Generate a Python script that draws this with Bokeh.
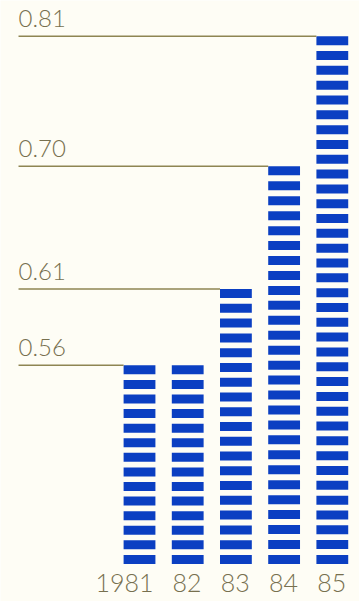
import math

from bokeh.core.properties import value
from bokeh.embed import file_html
from bokeh.models import ColumnDataSource, Range1d
from bokeh.plotting import figure
from bokeh.resources import INLINE

# Yearly ratio, 1981-85
years = ["1981", "82", "83", "84", "85"]
ratios = [0.56, 0.56, 0.61, 0.70, 0.81]

# ---- styling / layout -------------------------------------------------------
W, H = 359, 601
BG = "#fefdf5"
BLUE = "#0b3fc2"
RULE = "#8e8552"
INK = "#77704f"
FONT = value("Lato Light, Liberation Sans, sans-serif")

X_LO, X_HI = -2.884, 4.564        # bar i is centred at x = i
Y_LO, Y_HI = 0.4297, 0.8431       # log-scaled value axis
BASE = 0.4482                     # value at which the bars stand
BAR_W = 0.66
LABEL_X = -2.51                   # left edge of the value labels / rules
STRIPE_PX = 9.0                   # height of one stripe
PITCH_PX = 14.8                   # stripe repeat

px_per_log = H / (math.log(Y_HI) - math.log(Y_LO))
stripe_h = STRIPE_PX / px_per_log
pitch = PITCH_PX / px_per_log

# ---- striped bars -------------------------------------------------------------
sl, sr, st, sb = [], [], [], []
lb = math.log(BASE)
for i, v in enumerate(ratios):
    lt = math.log(v)
    span = lt - lb - stripe_h
    n = int(round(span / pitch)) + 1
    step = span / (n - 1)
    for k in range(n):
        top = lt - k * step
        sl.append(i - BAR_W / 2)
        sr.append(i + BAR_W / 2)
        st.append(math.exp(top))
        sb.append(math.exp(top - stripe_h))
stripes = ColumnDataSource(dict(left=sl, right=sr, top=st, bottom=sb))

# ---- value rules: one per distinct value, running to the first bar with it ----
rx0, rx1, ry, rtxt = [], [], [], []
for i, v in enumerate(ratios):
    if v in ry:
        continue
    rx0.append(LABEL_X)
    rx1.append(i - BAR_W / 2)
    ry.append(v)
    rtxt.append(f"{v:.2f}")
rules = ColumnDataSource(dict(x0=rx0, x1=rx1, y=ry, text=rtxt))

years_src = ColumnDataSource(dict(
    x=[i + BAR_W / 2 for i in range(len(years))],
    y=[BASE] * len(years),
    text=years,
))

p = figure(
    width=W, height=H,
    x_range=Range1d(X_LO, X_HI), y_range=Range1d(Y_LO, Y_HI),
    y_axis_type="log",
    x_axis_location=None, y_axis_location=None,
    title=None, title_location=None,
    output_backend="svg", toolbar_location=None,
    min_border=0, background_fill_color=BG, border_fill_color=BG,
    outline_line_color=None,
)
p.grid.visible = False

p.quad(left="left", right="right", top="top", bottom="bottom",
       source=stripes, fill_color=BLUE, line_color=None)

p.segment(x0="x0", x1="x1", y0="y", y1="y", source=rules,
          line_color=RULE, line_width=1.5)
p.text(x="x0", y="y", text="text", source=rules, y_offset=-9,
       text_font=FONT, text_font_size="24px", text_color=INK,
       text_align="left", text_baseline="bottom")

p.text(x="x", y="y", text="text", source=years_src, x_offset=-2, y_offset=10,
       text_font=FONT, text_font_size="25px", text_color=INK,
       text_align="right", text_baseline="top")

open("out.html", "w").write(file_html(p, INLINE))
